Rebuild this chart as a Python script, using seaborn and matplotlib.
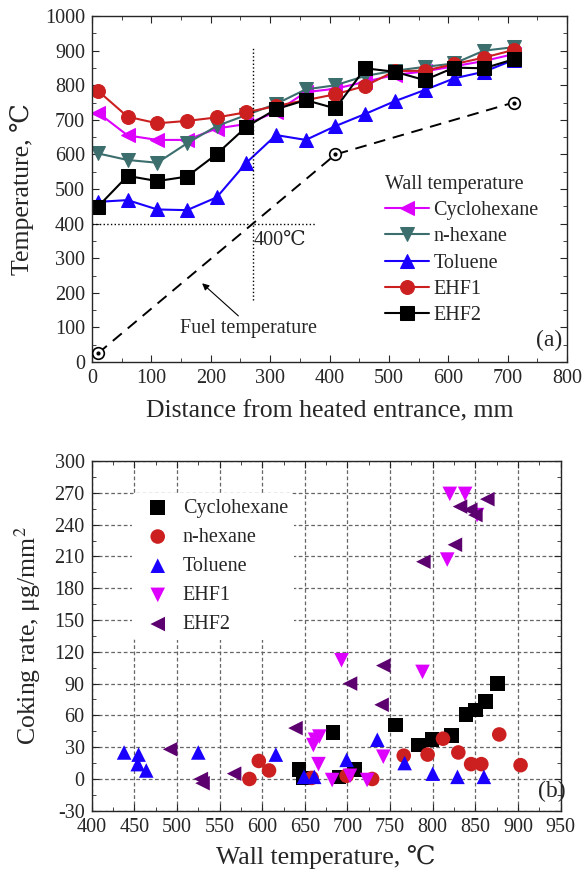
import matplotlib

matplotlib.use("Agg")
import matplotlib.pyplot as plt
import seaborn as sns
from matplotlib.ticker import MultipleLocator

# ---- panel (a): wall temperature along the tube ----
distance = [10, 60, 110, 160, 210, 260, 310, 360, 410, 460, 510, 560, 610, 660, 710]
wall_cyclohexane = [721, 655, 642, 642, 675, 688, 723, 780, 790, 810, 830, 840, 855, 870, 890]
wall_nhexane = [603, 584, 576, 632, 682, 714, 746, 788, 800, 827, 842, 853, 863, 900, 910]
wall_toluene = [463, 468, 441, 439, 476, 576, 656, 642, 682, 717, 754, 786, 820, 839, 873]
wall_ehf1 = [784, 709, 690, 697, 707, 722, 740, 757, 774, 798, 841, 842, 861, 880, 902]
wall_ehf2 = [449, 538, 523, 536, 601, 680, 731, 757, 733, 849, 839, 815, 851, 849, 875]

fuel_distance = [10, 410, 710]
fuel_temp = [25, 600, 750]

guide_x = 271
guide_y = 400

# ---- panel (b): coking rate vs wall temperature ----
cyc_wall = [643, 648, 683, 690, 708, 756, 783, 799, 822, 839, 850, 862, 876]
cyc_rate = [9, 1, 44, 2, 9, 51, 32, 37, 41, 61, 65, 73, 90]
hex_wall = [585, 596, 608, 658, 699, 729, 766, 794, 812, 830, 845, 857, 878, 903]
hex_rate = [0, 17, 8, 1, 3, 0, 22, 23, 38, 25, 14, 14, 42, 13]
tol_wall = [438, 455, 454, 464, 525, 616, 649, 661, 699, 735, 767, 800, 829, 860]
tol_rate = [25, 23, 14, 8, 25, 23, 2, 2, 18, 37, 15, 5, 2, 2]
ehf1_wall = [660, 662, 667, 666, 682, 703, 723, 742, 693, 788, 817, 820, 838, 852]
ehf1_rate = [32, 37, 40, 14, -1, 3, -1, 21, 112, 101, 207, 269, 269, 249]
ehf2_wall = [492, 528, 530, 567, 639, 703, 740, 742, 789, 826, 832, 844, 850, 864]
ehf2_rate = [28, 0, -4, 5, 48, 90, 70, 107, 205, 221, 257, 254, 249, 264]

MAGENTA = "#dd00ff"
TEAL = "#3d6e6e"
BLUE = "#1a00ff"
RED = "#cc2020"
PURPLE = "#5c0070"

TICK_FS = 14.5
LABEL_FS = 18.5
TEXT_FS = 14.5

sns.set_style("ticks")
plt.rcParams["font.family"] = ["Liberation Serif", "DejaVu Serif"]
plt.rcParams["font.size"] = TEXT_FS
plt.rcParams["mathtext.fontset"] = "stix"
plt.rcParams["axes.linewidth"] = 1.0
plt.rcParams["axes.unicode_minus"] = False

fig = plt.figure(figsize=(5.84, 8.73), dpi=100)
ax1 = fig.add_axes([0.1575, 0.5853, 0.8135, 0.3963])
ax2 = fig.add_axes([0.157, 0.0713, 0.803, 0.4006])

# panel (a)
series_a = [
    ("Cyclohexane", wall_cyclohexane, MAGENTA, "<"),
    ("n-hexane", wall_nhexane, TEAL, "v"),
    ("Toluene", wall_toluene, BLUE, "^"),
    ("EHF1", wall_ehf1, RED, "o"),
    ("EHF2", wall_ehf2, "black", "s"),
]
for name, temps, color, mk in series_a:
    sns.lineplot(
        x=distance, y=temps, ax=ax1, color=color, marker=mk, markersize=10,
        markeredgecolor=color, linewidth=1.5, label=name,
    )

sns.lineplot(x=fuel_distance, y=fuel_temp, ax=ax1, color="black",
             linestyle=(0, (6, 4)), linewidth=1.4, legend=False)
ax1.scatter(fuel_distance, fuel_temp, s=70, facecolor="white",
            edgecolor="black", linewidth=1.2, zorder=5)
ax1.scatter(fuel_distance, fuel_temp, s=4, color="black", zorder=6)

ax1.vlines(guide_x, 180, 907, colors="black", linestyles=":", linewidth=1.0)
ax1.hlines(guide_y, 0, 378, colors="black", linestyles=":", linewidth=1.0)
ax1.text(272, 352, "400℃", fontsize=TEXT_FS, va="center")
ax1.annotate("", xy=(182, 233), xytext=(250, 128),
             arrowprops=dict(arrowstyle="-|>", color="black", lw=0.8,
                             mutation_scale=10))
ax1.text(148, 98, "Fuel temperature", fontsize=TEXT_FS, va="center")
ax1.text(748, 62, "(a)", fontsize=17, va="center")

ax1.set_xlim(0, 800)
ax1.set_ylim(0, 1000)
ax1.xaxis.set_major_locator(MultipleLocator(100))
ax1.xaxis.set_minor_locator(MultipleLocator(50))
ax1.yaxis.set_major_locator(MultipleLocator(100))
ax1.yaxis.set_minor_locator(MultipleLocator(50))
ax1.tick_params(which="both", direction="in", top=True, right=True)
ax1.tick_params(which="major", length=5, labelsize=TICK_FS, pad=5)
ax1.tick_params(which="minor", length=3)
ax1.set_xlabel("Distance from heated entrance, mm", fontsize=LABEL_FS,
               labelpad=9)
ax1.set_ylabel("Temperature, ℃", fontsize=LABEL_FS, labelpad=8)
ax1.legend(title="Wall temperature", loc="upper left",
           bbox_to_anchor=(0.6, 0.565), frameon=False, fontsize=TEXT_FS,
           title_fontsize=TEXT_FS, handlelength=2.2, handletextpad=0.2,
           labelspacing=0.36, alignment="left", borderaxespad=0)

# panel (b)
series_b = [
    ("Cyclohexane", cyc_wall, cyc_rate, "black", "s"),
    ("n-hexane", hex_wall, hex_rate, RED, "o"),
    ("Toluene", tol_wall, tol_rate, BLUE, "^"),
    ("EHF1", ehf1_wall, ehf1_rate, MAGENTA, "v"),
    ("EHF2", ehf2_wall, ehf2_rate, PURPLE, "<"),
]
for name, wall, rate, color, mk in series_b:
    sns.scatterplot(x=wall, y=rate, ax=ax2, color=color, marker=mk, s=110,
                    edgecolor="none", label=name, zorder=3)

ax2.set_xlim(400, 950)
ax2.set_ylim(-30, 300)
ax2.xaxis.set_major_locator(MultipleLocator(50))
ax2.xaxis.set_minor_locator(MultipleLocator(25))
ax2.yaxis.set_major_locator(MultipleLocator(30))
ax2.yaxis.set_minor_locator(MultipleLocator(15))
ax2.grid(True, which="major", color="#666666", linestyle=(0, (3, 2)),
         linewidth=0.9)
ax2.set_axisbelow(True)
ax2.tick_params(which="both", direction="in", top=True, right=True)
ax2.tick_params(which="major", length=5, labelsize=TICK_FS, pad=5)
ax2.tick_params(which="minor", length=3)
ax2.set_xlabel("Wall temperature, ℃", fontsize=LABEL_FS, labelpad=6)
ax2.set_ylabel("Coking rate, μg/mm$^2$", fontsize=LABEL_FS, labelpad=8)
ax2.text(923, -12, "(b)", fontsize=17, va="center")
leg = ax2.legend(loc="upper left", bbox_to_anchor=(0.085, 0.91),
                 frameon=True, fontsize=TEXT_FS, handletextpad=0.25,
                 labelspacing=0.5, borderaxespad=0, borderpad=0.3)
leg.get_frame().set_edgecolor("none")
leg.get_frame().set_facecolor("white")
leg.get_frame().set_alpha(1)

fig.savefig("out.png", dpi=100)
